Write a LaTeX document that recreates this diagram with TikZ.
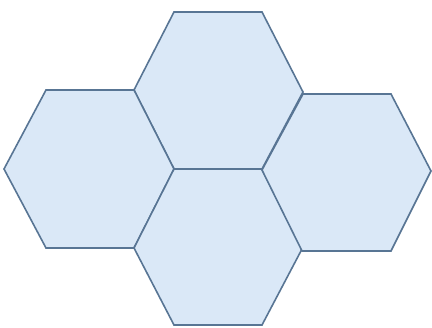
\documentclass[tikz,border=0pt]{standalone}
\definecolor{hexfill}{HTML}{DAE8F7}
\definecolor{hexline}{HTML}{587594}
\tikzset{hexcell/.style={fill=hexfill,draw=hexline,line width=1.6pt,line join=miter}}
\begin{document}
\begin{tikzpicture}[x=1pt,y=-1pt]
\useasboundingbox (0,0) rectangle (432,328);
% top hexagon
\draw[hexcell] (134,90) -- (174,12) -- (262,12) -- (303,92) -- (262,169) -- (174,169) -- cycle;
% left hexagon
\draw[hexcell] (4,169) -- (46,90) -- (134,90) -- (174,169) -- (134,248) -- (46,248) -- cycle;
% bottom hexagon
\draw[hexcell] (134,248) -- (174,169) -- (262,169) -- (302,249) -- (262,325) -- (174,325) -- cycle;
% right hexagon
\draw[hexcell] (262,170) -- (303,94) -- (391,94) -- (431,171) -- (391,251) -- (302,251) -- cycle;
\end{tikzpicture}
\end{document}
